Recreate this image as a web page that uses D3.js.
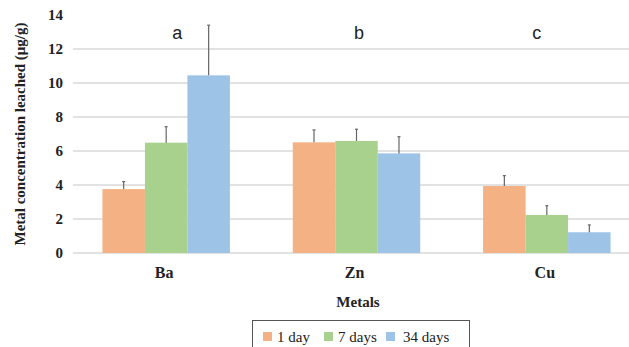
<!DOCTYPE html>
<html>
<head>
<meta charset="utf-8">
<script src="https://cdn.jsdelivr.net/npm/d3@7"></script>
<style>
  body { margin: 0; background: #fff; }
  svg { display: block; }
</style>
</head>
<body>
<div id="chart"></div>
<script>
// data
const metals = ['Ba', 'Zn', 'Cu'];
const series = ['1 day', '7 days', '34 days'];
const day1 = [3.76, 6.51, 3.94];
const day7 = [6.49, 6.59, 2.24];
const day34 = [10.45, 5.86, 1.22];
const err1 = [0.44, 0.73, 0.61];
const err7 = [0.94, 0.69, 0.54];
const err34 = [2.95, 0.98, 0.43];
const groupLetters = ['a', 'b', 'c'];
const yTicks = [0, 2, 4, 6, 8, 10, 12, 14];

const colors = ['#F4B183', '#A9D18E', '#9DC3E6'];
const values = [day1, day7, day34];
const errors = [err1, err7, err34];

const width = 629, height = 347;
const svg = d3.select('#chart').append('svg')
  .attr('width', width)
  .attr('height', height);

const x = d3.scaleBand().domain(metals).range([71, 642]).paddingInner(0).paddingOuter(0);
const xs = d3.scaleBand().domain(series).range([0, x.bandwidth()]).paddingInner(0).paddingOuter(0.74);
const y = d3.scaleLinear().domain([0, 14]).range([253, 15]);

// gridlines
svg.append('g')
  .selectAll('line')
  .data(yTicks.filter(d => d < 14))
  .enter().append('line')
  .attr('x1', 73).attr('x2', width)
  .attr('y1', d => y(d)).attr('y2', d => y(d))
  .attr('stroke', '#d9d9d9')
  .attr('stroke-width', 1.3);

// y tick labels
svg.append('g')
  .selectAll('text')
  .data(yTicks)
  .enter().append('text')
  .attr('x', 63)
  .attr('y', d => y(d))
  .attr('dy', '0.35em')
  .attr('text-anchor', 'end')
  .attr('font-family', 'Liberation Serif, Times New Roman, serif')
  .attr('font-weight', 'bold')
  .attr('font-size', 15)
  .attr('fill', '#222')
  .text(d => d);

// bars
const rows = [];
metals.forEach((m, i) => {
  series.forEach((s, j) => {
    rows.push({ metal: m, series: s, j: j, value: values[j][i], err: errors[j][i] });
  });
});

const groups = svg.append('g');
groups.selectAll('rect')
  .data(rows)
  .enter().append('rect')
  .attr('x', d => x(d.metal) + xs(d.series))
  .attr('width', xs.bandwidth())
  .attr('y', d => y(d.value))
  .attr('height', d => y(0) - y(d.value))
  .attr('fill', d => colors[d.j]);

// error bars (upper only)
const eb = svg.append('g').attr('stroke', '#666').attr('stroke-width', 1.2);
eb.selectAll('line.v')
  .data(rows)
  .enter().append('line')
  .attr('class', 'v')
  .attr('x1', d => x(d.metal) + xs(d.series) + xs.bandwidth() / 2)
  .attr('x2', d => x(d.metal) + xs(d.series) + xs.bandwidth() / 2)
  .attr('y1', d => y(d.value))
  .attr('y2', d => y(d.value + d.err));
eb.selectAll('line.cap')
  .data(rows)
  .enter().append('line')
  .attr('class', 'cap')
  .attr('x1', d => x(d.metal) + xs(d.series) + xs.bandwidth() / 2 - 1.5)
  .attr('x2', d => x(d.metal) + xs(d.series) + xs.bandwidth() / 2 + 1.5)
  .attr('y1', d => y(d.value + d.err))
  .attr('y2', d => y(d.value + d.err));

// group letters
const letterShift = [11, 2.5, -10];
svg.append('g')
  .selectAll('text')
  .data(metals)
  .enter().append('text')
  .attr('x', (d, i) => x(d) + x.bandwidth() / 2 + letterShift[i])
  .attr('y', 39)
  .attr('text-anchor', 'middle')
  .attr('font-family', 'Liberation Sans, Arial, sans-serif')
  .attr('font-size', 18)
  .attr('fill', '#222')
  .text((d, i) => groupLetters[i]);

// category labels
svg.append('g')
  .selectAll('text')
  .data(metals)
  .enter().append('text')
  .attr('x', d => x(d) + x.bandwidth() / 2 - 2)
  .attr('y', 272)
  .attr('dy', '0.35em')
  .attr('text-anchor', 'middle')
  .attr('font-family', 'Liberation Serif, Times New Roman, serif')
  .attr('font-weight', 'bold')
  .attr('font-size', 16)
  .attr('fill', '#222')
  .text(d => d);

// axis titles
svg.append('text')
  .attr('x', 358)
  .attr('y', 302)
  .attr('dy', '0.35em')
  .attr('text-anchor', 'middle')
  .attr('font-family', 'Liberation Serif, Times New Roman, serif')
  .attr('font-weight', 'bold')
  .attr('font-size', 15)
  .attr('fill', '#222')
  .text('Metals');

svg.append('text')
  .attr('transform', 'translate(25,134) rotate(-90)')
  .attr('text-anchor', 'middle')
  .attr('font-family', 'Liberation Serif, Times New Roman, serif')
  .attr('font-weight', 'bold')
  .attr('font-size', 15)
  .attr('fill', '#222')
  .text('Metal concentration leached (μg/g)');

// legend
const legend = svg.append('g');
legend.append('rect')
  .attr('x', 252.5).attr('y', 320.5)
  .attr('width', 217).attr('height', 40)
  .attr('fill', '#fff')
  .attr('stroke', '#555')
  .attr('stroke-width', 1);
const legendX = [263, 324, 386];
series.forEach((s, j) => {
  legend.append('rect')
    .attr('x', legendX[j]).attr('y', 332)
    .attr('width', 9).attr('height', 9)
    .attr('fill', colors[j]);
  legend.append('text')
    .attr('x', legendX[j] + 14 + (j === 2 ? 3 : 0))
    .attr('y', 336.5)
    .attr('dy', '0.35em')
    .attr('font-family', 'Liberation Serif, Times New Roman, serif')
    .attr('font-size', 15)
    .attr('fill', '#222')
    .text(s);
});
</script>
</body>
</html>
